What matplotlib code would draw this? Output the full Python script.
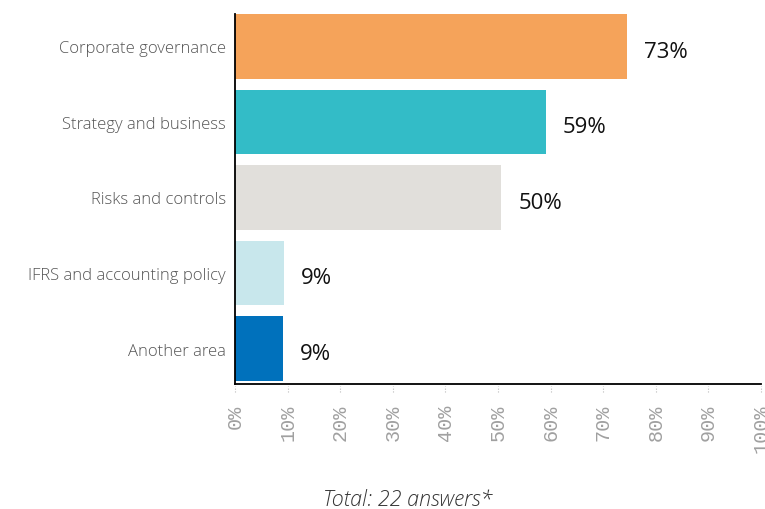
import matplotlib
matplotlib.use("Agg")
import matplotlib.pyplot as plt
import matplotlib.transforms as mtransforms
import numpy as np

categories = ["Corporate governance", "Strategy and business", "Risks and controls",
              "IFRS and accounting policy", "Another area"]
values = [74.5, 59.1, 50.6, 9.3, 9.1]
value_labels = ["73%", "59%", "50%", "9%", "9%"]
colors = ["#F5A35A", "#33BCC7", "#E1DFDB", "#C8E7EC", "#0071BC"]
xticks = [0, 10, 20, 30, 40, 50, 60, 70, 80, 90, 100]
xtick_labels = [f"{t}%" for t in xticks]
footnote = "Total: 22 answers*"

fig = plt.figure(figsize=(7.65, 5.1), dpi=100)
ax = fig.add_axes([235/765, 1-385/510, (761-235)/765, (385-15)/510])

y = np.arange(len(categories))
ax.barh(y, values, height=0.86, color=colors)
ax.set_xlim(0, 100)
ax.set_ylim(4.47, -0.43)

ax.set_yticks(y)
ax.set_yticklabels(categories, fontfamily="Open Sans", fontweight="light",
                   fontsize=12, color="#555555")
ax.tick_params(axis="y", length=0, pad=6.5)

ax.set_xticks(xticks)
ax.set_xticklabels(xtick_labels, rotation=90, fontfamily="Liberation Mono",
                   fontsize=14.5, color="#a0a0a0")
ax.tick_params(axis="x", length=0, pad=14)

trans = mtransforms.blended_transform_factory(ax.transData, ax.transAxes)
ax.vlines(xticks, -0.022, -0.006, transform=trans, colors="#bbbbbb",
          linestyles=(0, (1, 1.5)), linewidth=0.8, clip_on=False)

for s in ["top", "right"]:
    ax.spines[s].set_visible(False)
for s in ["left", "bottom"]:
    ax.spines[s].set_color("black")
    ax.spines[s].set_linewidth(1.3)

for yi, v, lab in zip(y, values, value_labels):
    ax.annotate(lab, (v, yi), xytext=(17, -5), textcoords="offset pixels",
                ha="left", va="center", fontsize=16, color="#111111",
                fontfamily="Open Sans")

fig.text(408/765, 1-500/510, footnote, ha="center", va="center",
         fontsize=15.5, style="italic", fontfamily="Open Sans",
         fontweight="light", color="#333333")

fig.savefig("out.png", dpi=100, facecolor="white")
